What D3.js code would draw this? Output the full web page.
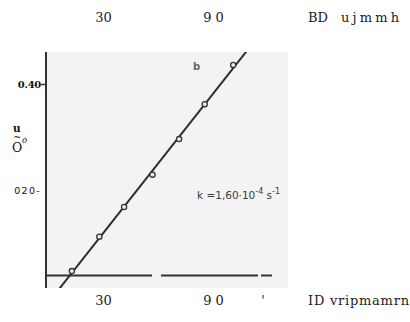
<!DOCTYPE html>
<html>
<head>
<meta charset="utf-8">
<script src="https://cdn.jsdelivr.net/npm/d3@7"></script>
<style>
  html, body { margin: 0; padding: 0; background: #fff; }
  svg { display: block; }
</style>
</head>
<body>
<div id="chart"></div>
<script>
// values
const times = [13, 28, 41.5, 57, 71.5, 85.5, 101];
const values = [0.047, 0.112, 0.168, 0.229, 0.296, 0.362, 0.436];
const topTicks = [30, 90];
const topTickLabels = ["30", "9 0"];
const bottomTicks = [30, 90, 117];
const bottomTickLabels = ["30", "9 0", "'"];
const yTicks = [0.40, 0.20];
const yTickLabels = ["0.40", "020-"];

const W = 410, H = 322;
const plot = { left: 45, top: 52, right: 288, bottom: 288 };

const svg = d3.select("#chart").append("svg")
  .attr("width", W).attr("height", H);

const x = d3.scaleLinear().domain([30, 90]).range([103, 213]);
const y = d3.scaleLinear().domain([0.20, 0.40]).range([190, 84]);

/* scanned plate */
svg.append("rect")
  .attr("x", plot.left).attr("y", plot.top)
  .attr("width", plot.right - plot.left).attr("height", plot.bottom - plot.top)
  .attr("fill", "#f3f3f3");

svg.append("clipPath").attr("id", "plate")
  .append("rect")
  .attr("x", plot.left).attr("y", plot.top)
  .attr("width", plot.right - plot.left).attr("height", plot.bottom - plot.top);

const g = svg.append("g").attr("clip-path", "url(#plate)");

// baseline, broken in the scan
const baseY = 275.5;
[[plot.left, 152], [161, 258], [261, 272]].forEach(s => {
  g.append("line")
    .attr("x1", s[0]).attr("x2", s[1])
    .attr("y1", baseY).attr("y2", baseY)
    .attr("stroke", "#333").attr("stroke-width", 2);
});

// least squares line through the points
const mx = d3.mean(times), my = d3.mean(values);
const slope = d3.sum(times, (t, i) => (t - mx) * (values[i] - my)) / d3.sum(times, t => (t - mx) * (t - mx));
const icpt = my - slope * mx;
const tA = x.invert(plot.left), tB = x.invert(plot.right);
g.append("line")
  .attr("x1", x(tA)).attr("y1", y(icpt + slope * tA))
  .attr("x2", x(tB)).attr("y2", y(icpt + slope * tB))
  .attr("stroke", "#2e2e2e").attr("stroke-width", 2);

g.selectAll("circle.pt")
  .data(times.map((t, i) => [t, values[i]]))
  .join("circle")
  .attr("class", "pt")
  .attr("cx", d => x(d[0])).attr("cy", d => y(d[1]))
  .attr("r", 2.6)
  .attr("fill", "#ececec")
  .attr("stroke", "#333").attr("stroke-width", 1.3);

g.append("text")
  .attr("x", 193).attr("y", 70)
  .attr("font-family", "DejaVu Sans, sans-serif").attr("font-size", 10).attr("font-weight", "bold")
  .attr("fill", "#666").text("b");

const kText = g.append("text")
  .attr("x", 197).attr("y", 199)
  .attr("font-family", "DejaVu Sans, sans-serif").attr("font-size", 10.5)
  .attr("fill", "#3a3a3a");
kText.append("tspan").text("k =1,60·10");
kText.append("tspan").attr("dy", -5).attr("font-size", 8).text("-4");
kText.append("tspan").attr("dy", 5).text(" s");
kText.append("tspan").attr("dy", -5).attr("font-size", 8).text("-1");

/* left axis */
svg.append("line")
  .attr("x1", plot.left + 1).attr("x2", plot.left + 1)
  .attr("y1", plot.top).attr("y2", plot.bottom)
  .attr("stroke", "#333").attr("stroke-width", 2);

const yAxis = d3.axisLeft(y).tickValues(yTicks).tickSize(4)
  .tickFormat((d, i) => yTickLabels[i]);
const ya = svg.append("g").attr("transform", `translate(${plot.left},0)`).call(yAxis);
ya.select(".domain").remove();
ya.selectAll(".tick line").attr("stroke", "#333").attr("stroke-width", 1.5);
ya.selectAll(".tick text").attr("fill", "#111").attr("x", -4)
  .attr("font-family", (d, i) => i === 0 ? "DejaVu Serif, serif" : "DejaVu Sans, sans-serif")
  .attr("font-weight", (d, i) => i === 0 ? "bold" : "normal")
  .attr("font-size", (d, i) => i === 0 ? 10 : 9.5)
  .attr("letter-spacing", (d, i) => i === 0 ? -0.3 : 1.3)
  .attr("text-anchor", "end");
ya.selectAll(".tick").filter((d, i) => i === 1).select("line").remove();

// y axis title as it came out of the scan, one text element stacked
const yt = svg.append("text").attr("font-family", "DejaVu Serif, serif").attr("fill", "#111");
yt.append("tspan").attr("x", 13).attr("y", 132).attr("font-size", 10.5).attr("font-weight", "bold").text("u");
yt.append("tspan").attr("x", 13.5).attr("y", 140).attr("font-size", 9).text("~");
yt.append("tspan").attr("x", 22).attr("y", 143).attr("font-size", 8.5).attr("font-style", "italic").text("o");
yt.append("tspan").attr("x", 12).attr("y", 152).attr("font-size", 12.5).text("O");

/* top and bottom tick labels */
const topAxis = d3.axisTop(x).tickValues(topTicks).tickSize(0)
  .tickFormat((d, i) => topTickLabels[i]);
const ta = svg.append("g").attr("transform", "translate(0,22)").call(topAxis);
ta.select(".domain").remove();
ta.selectAll(".tick text").attr("y", 0).attr("dy", 0)
  .attr("font-family", "DejaVu Serif, serif").attr("font-size", 13).attr("fill", "#222");

const botAxis = d3.axisBottom(x).tickValues(bottomTicks).tickSize(0)
  .tickFormat((d, i) => bottomTickLabels[i]);
const ba = svg.append("g").attr("transform", "translate(0,305)").call(botAxis);
ba.select(".domain").remove();
ba.selectAll(".tick text").attr("y", 0).attr("dy", 0)
  .attr("font-family", "DejaVu Serif, serif").attr("font-size", 13).attr("fill", "#222");

const bd = svg.append("text").attr("y", 22)
  .attr("font-family", "DejaVu Serif, serif").attr("font-size", 13).attr("fill", "#222");
bd.append("tspan").attr("x", 308).text("BD");
bd.append("tspan").attr("x", 341).attr("letter-spacing", 3.2).text("ujmmh");
svg.append("text").attr("x", 308).attr("y", 305)
  .attr("font-family", "DejaVu Serif, serif").attr("font-size", 13).attr("fill", "#222")
  .attr("textLength", 101).attr("lengthAdjust", "spacing")
  .text("ID vripmamrn");
</script>
</body>
</html>
